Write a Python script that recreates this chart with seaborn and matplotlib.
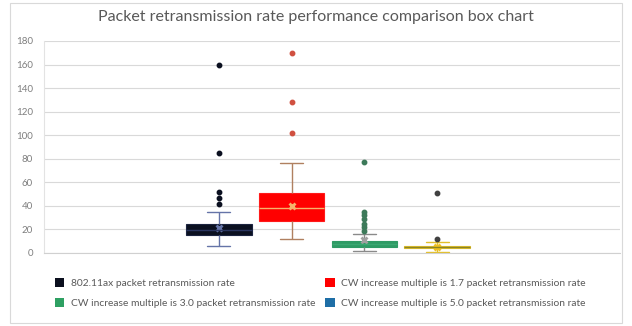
import matplotlib
matplotlib.use("Agg")
import matplotlib.pyplot as plt
from matplotlib.patches import Patch, Rectangle
import seaborn as sns
import pandas as pd

# Packet retransmission rate samples per contention-window setting
groups = [
    "802.11ax packet retransmission rate",
    "CW increase multiple is 1.7 packet retransmission rate",
    "CW increase multiple is 3.0 packet retransmission rate",
    "CW increase multiple is 5.0 packet retransmission rate",
]
rate_80211ax = [6, 9, 11, 12.5, 13.5, 14.5, 15.3, 16, 17, 17.5, 18, 19, 19.5,
                20.5, 21, 22, 23, 24, 25, 35, 42, 47, 52, 85, 160]
rate_cw17 = [12, 16, 19, 22, 24, 26, 27.2, 29, 31, 33, 35, 36.5, 38,
             40, 42, 44, 46, 48.5, 50.7, 56, 63, 76, 102, 128, 170]
rate_cw30 = [2, 3, 3.5, 4, 4.5, 4.8, 5, 5.1, 5.3, 5.6, 6, 6.3, 6.7, 7, 7.2, 7.4,
             7.6, 8, 8.4, 8.8, 9.2, 9.6, 9.9, 10.2, 10.4, 16,
             18.5, 22, 25, 28.5, 32, 35, 77]
rate_cw50 = [1, 2, 2.8, 3.3, 3.7, 4, 4.3, 4.6, 4.8, 5, 5.1, 5.3, 5.5, 5.8,
             6, 6.2, 7, 8, 9.3, 12, 51]
mean_rates = [21, 40, 11, 5]
y_ticks = [0, 20, 40, 60, 80, 100, 120, 140, 160, 180]

samples = [rate_80211ax, rate_cw17, rate_cw30, rate_cw50]
df = pd.DataFrame({
    "group": [g for g, s in zip(groups, samples) for _ in s],
    "rate": [v for s in samples for v in s],
})
means_df = pd.DataFrame({"group": groups, "mean": mean_rates})

box_face = ["#0b1020", "#ff0000", "#2e9b65", "#6d6a1c"]
box_edge = ["#1c2440", "#ff1a1a", "#2e9b65", "#e3c02a"]
whisker_col = ["#6574a8", "#b08060", "#8a8a8a", "#e3c02a"]
median_col = ["#2a3560", "#f6b26b", "#3aa872", "#8a8425"]
flier_col = ["#0b1020", "#d05040", "#3d7a5a", "#404040"]
mean_col = ["#6574a8", "#f6b26b", "#a0a0a0", "#f0c020"]
legend_col = ["#0b0f1e", "#ff0000", "#2ea062", "#1e6ea6"]

sns.set_theme(style="white")
plt.rcParams["font.family"] = ["Lato", "DejaVu Sans"]

fig = plt.figure(figsize=(6.32, 3.26), dpi=100)
ax = fig.add_axes([44 / 632, 1 - 253 / 326, 576 / 632, 212 / 326])

sns.boxplot(data=df, x="group", y="rate", hue="group", order=groups,
            hue_order=groups, palette=box_face, width=0.9, whis=1.5,
            fliersize=3, linewidth=1, legend=False, ax=ax)

for i, cont in enumerate(ax.containers):
    for b in cont.boxes:
        b.set_facecolor(box_face[i])
        b.set_edgecolor(box_edge[i])
        b.set_linewidth(0.8)
    for m in cont.medians:
        m.set_color(median_col[i])
        m.set_linewidth(1)
    for w in cont.whiskers:
        w.set_color(whisker_col[i])
        w.set_linewidth(1)
    for c in cont.caps:
        c.set_color(whisker_col[i])
        c.set_linewidth(1)
        xd = c.get_xdata()
        mid = (xd[0] + xd[1]) / 2
        c.set_xdata([mid - 0.16, mid + 0.16])
    for f in cont.fliers:
        f.set_marker("o")
        f.set_markerfacecolor(flier_col[i])
        f.set_markeredgecolor(flier_col[i])
        f.set_markersize(3.2)

sns.pointplot(data=means_df, x="group", y="mean", hue="group", order=groups,
              hue_order=groups, palette=mean_col, markers="x",
              linestyle="none", markersize=4, legend=False, ax=ax)

ax.set_xlim(-2.40, 5.51)
ax.set_ylim(0, 180)
ax.set_yticks(y_ticks)
ax.set_xticks([])
ax.set_xlabel("")
ax.set_ylabel("")
ax.grid(axis="y", color="#d9d9d9", linewidth=0.8)
ax.set_axisbelow(True)
for side in ["top", "right"]:
    ax.spines[side].set_visible(False)
ax.spines["left"].set_color("#e3e3e3")
ax.spines["bottom"].set_color("#d0d0d0")
ax.spines["left"].set_linewidth(0.8)
ax.spines["bottom"].set_linewidth(0.8)
ax.tick_params(axis="y", labelsize=7, labelcolor="#7f7f7f", length=0, pad=8)

fig.text(0.5, 1 - 17 / 326, "Packet retransmission rate performance comparison box chart",
         ha="center", va="center", fontsize=11.5, color="#595959")

handles = [Patch(facecolor=legend_col[i], edgecolor="none") for i in range(4)]
order = [0, 2, 1, 3]
fig.legend([handles[i] for i in order], [groups[i] for i in order],
           ncol=2, loc="upper left", bbox_to_anchor=(51 / 632, 1 - 274 / 326),
           frameon=False, fontsize=7.4, labelcolor="#595959",
           handlelength=0.9, handleheight=0.9, handletextpad=0.6,
           columnspacing=1.0, labelspacing=1.0, borderaxespad=0)

fig.patches.append(Rectangle((10 / 632, 3 / 326), 612 / 632, 320 / 326,
                             transform=fig.transFigure, fill=False,
                             edgecolor="#d9d9d9", linewidth=0.8))

fig.savefig("out.png", dpi=100)
